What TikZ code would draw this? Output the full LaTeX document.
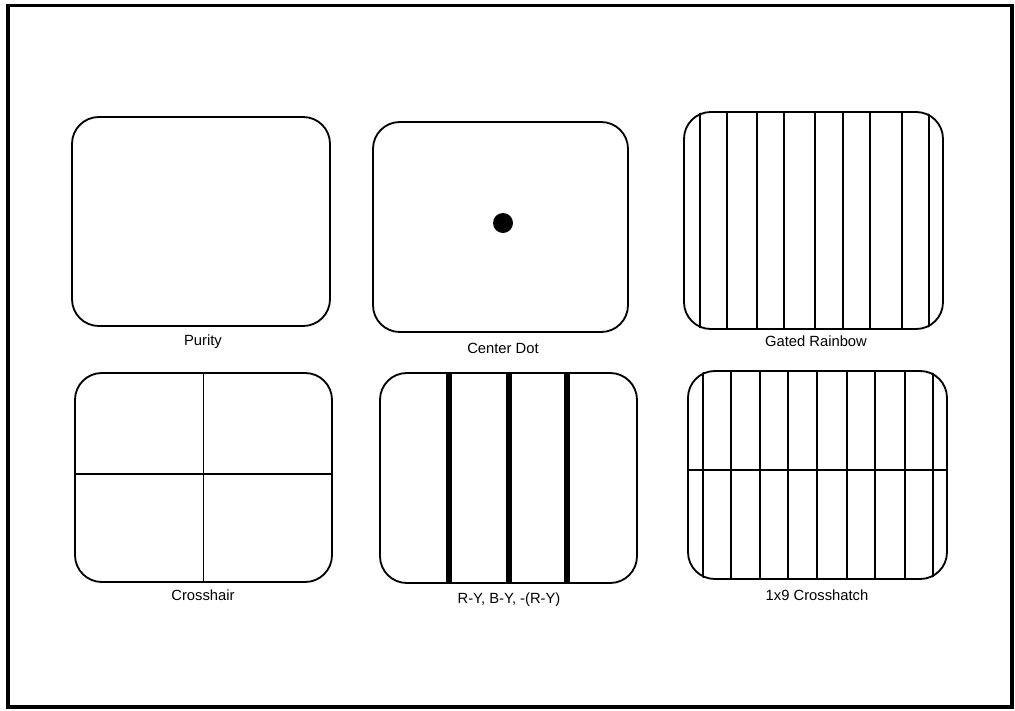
\documentclass[tikz,border=0pt]{standalone}
\usepackage{fontspec}
\setmainfont{Liberation Sans}
\begin{document}
\begin{tikzpicture}[x=0.025cm,y=-0.025cm,
  screen/.style={draw, line width=1.3pt, rounded corners=0.67cm, inner sep=0pt, fill=none},
  rast/.style={line width=1.3pt},
  bar/.style={line width=3.6pt},
  lbl/.style={font=\fontsize{10.5}{12}\selectfont, inner sep=0pt}]
\useasboundingbox (0,0) rectangle (1015,711);
\draw[line width=2.8pt] (8,5.5) rectangle (1012,707);

% Purity
\node[screen, minimum width=258*0.025cm, minimum height=209*0.025cm] (pur) at (201,221.5) {};
\node[lbl] (purl) at (203,342) {Purity};

% Center Dot
\node[screen, minimum width=255*0.025cm, minimum height=210*0.025cm] (cd) at (500.5,227) {};
\fill (503,223) circle (10);
\node[lbl] (cdl) at (503,348) {Center Dot};

% Gated Rainbow
\node[screen, minimum width=259*0.025cm, minimum height=217*0.025cm] (gr) at (813.5,220.5) {};
\begin{scope}
\clip[rounded corners=0.67cm] (gr.south west) rectangle (gr.north east);
\foreach \x in {700,727,757,784,815,843,870,902,929}
  \draw[rast] (\x,100) -- (\x,340);
\end{scope}
\node[lbl] (grl) at (816,341) {Gated Rainbow};

% Crosshair
\node[screen, minimum width=257*0.025cm, minimum height=209*0.025cm] (ch) at (203.5,477.5) {};
\draw[rast] (ch.north) -- (ch.south);
\draw[rast] (ch.west |- 0,474) -- (ch.east |- 0,474);
\node[lbl] (chl) at (203,595) {Crosshair};

% R-Y, B-Y, -(R-Y)
\node[screen, minimum width=257*0.025cm, minimum height=210*0.025cm] (ry) at (508.5,478) {};
\foreach \x in {449,509,567}
  \draw[bar] (\x,373) -- (\x,583);
\node[lbl] (ryl) at (509,600) {R-Y, B-Y, -(R-Y)};

% 1x9 Crosshatch
\node[screen, minimum width=259*0.025cm, minimum height=208*0.025cm] (xh) at (817.5,475) {};
\begin{scope}
\clip[rounded corners=0.67cm] (xh.south west) rectangle (xh.north east);
\foreach \x in {703,731,760,788,817,847,875,905,933}
  \draw[rast] (\x,360) -- (\x,590);
\end{scope}
\draw[line width=1.6pt] (xh.west |- 0,470) -- (xh.east |- 0,470);
\node[lbl] (xhl) at (817,595) {1x9 Crosshatch};
\end{tikzpicture}
\end{document}
